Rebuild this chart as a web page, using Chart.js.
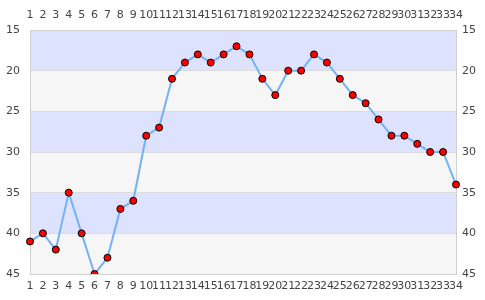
<!DOCTYPE html>
<html lang="en">
<head>
<meta charset="UTF-8">
<title>Line chart</title>
<script src="https://cdn.jsdelivr.net/npm/chart.js"></script>
<style>
  html, body { margin: 0; padding: 0; background: #fff; }
  #wrap { width: 485px; height: 300px; }
</style>
</head>
<body>
<div id="wrap"><canvas id="chart"></canvas></div>
<script>
const labels = ['1','2','3','4','5','6','7','8','9','10','11','12','13','14','15','16','17',
                '18','19','20','21','22','23','24','25','26','27','28','29','30','31','32','33','34'];
const values = [41, 40, 42, 35, 40, 45, 43, 37, 36, 28, 27, 21, 19, 18, 19, 18, 17,
                18, 21, 23, 20, 20, 18, 19, 21, 23, 24, 26, 28, 28, 29, 30, 30, 34];
const yTicks = [15, 20, 25, 30, 35, 40, 45];
const bandColors = ['#dde3fe', '#f6f6f6'];

// alternating horizontal bands between y ticks
const bands = {
    id: 'bands',
    beforeDraw(chart) {
        const ctx = chart.ctx;
        const area = chart.chartArea;
        const y = chart.scales.y;
        ctx.save();
        for (let i = 0; i < yTicks.length - 1; i++) {
            const a = y.getPixelForValue(yTicks[i]);
            const b = y.getPixelForValue(yTicks[i + 1]);
            ctx.fillStyle = bandColors[i % 2];
            ctx.fillRect(area.left, Math.min(a, b), area.right - area.left, Math.abs(b - a));
        }
        ctx.restore();
    }
};

const font = { family: 'DejaVu Sans', size: 11 };

new Chart(document.getElementById('chart'), {
    type: 'line',
    data: {
        labels: labels,
        datasets: [{
            data: values,
            borderColor: '#74b2f2',
            borderWidth: 2,
            pointBackgroundColor: '#ff0000',
            pointBorderColor: '#000',
            pointBorderWidth: 1,
            pointRadius: 3.5,
            tension: 0,
            fill: false
        }]
    },
    options: {
        responsive: true,
        maintainAspectRatio: false,
        animation: false,
        plugins: { legend: { display: false }, tooltip: { enabled: false } },
        layout: { padding: 0 },
        scales: {
            x: {
                position: 'bottom',
                offset: false,
                grid: { display: false, drawTicks: false },
                border: { color: '#d0d0d0' },
                ticks: { autoSkip: false, maxRotation: 0, color: '#444', font: font, padding: 6 },
                afterFit(s) { s.height = 26; }
            },
            x2: {
                position: 'top',
                type: 'category',
                labels: labels,
                offset: false,
                grid: { display: false, drawTicks: false },
                border: { color: '#d0d0d0' },
                ticks: { autoSkip: false, maxRotation: 0, color: '#444', font: font, padding: 8 },
                afterFit(s) { s.height = 30; }
            },
            y: {
                position: 'left',
                reverse: true,
                min: 15,
                max: 45,
                grid: { color: '#dddddd', drawTicks: false },
                border: { color: '#d0d0d0' },
                ticks: { stepSize: 5, color: '#444', font: font, padding: 10 },
                afterFit(s) { s.width = 30; }
            },
            y2: {
                position: 'right',
                reverse: true,
                min: 15,
                max: 45,
                grid: { display: false, drawTicks: false },
                border: { color: '#d0d0d0' },
                ticks: { stepSize: 5, color: '#444', font: font, padding: 6 },
                afterFit(s) { s.width = 29; }
            }
        }
    },
    plugins: [bands]
});
</script>
</body>
</html>
